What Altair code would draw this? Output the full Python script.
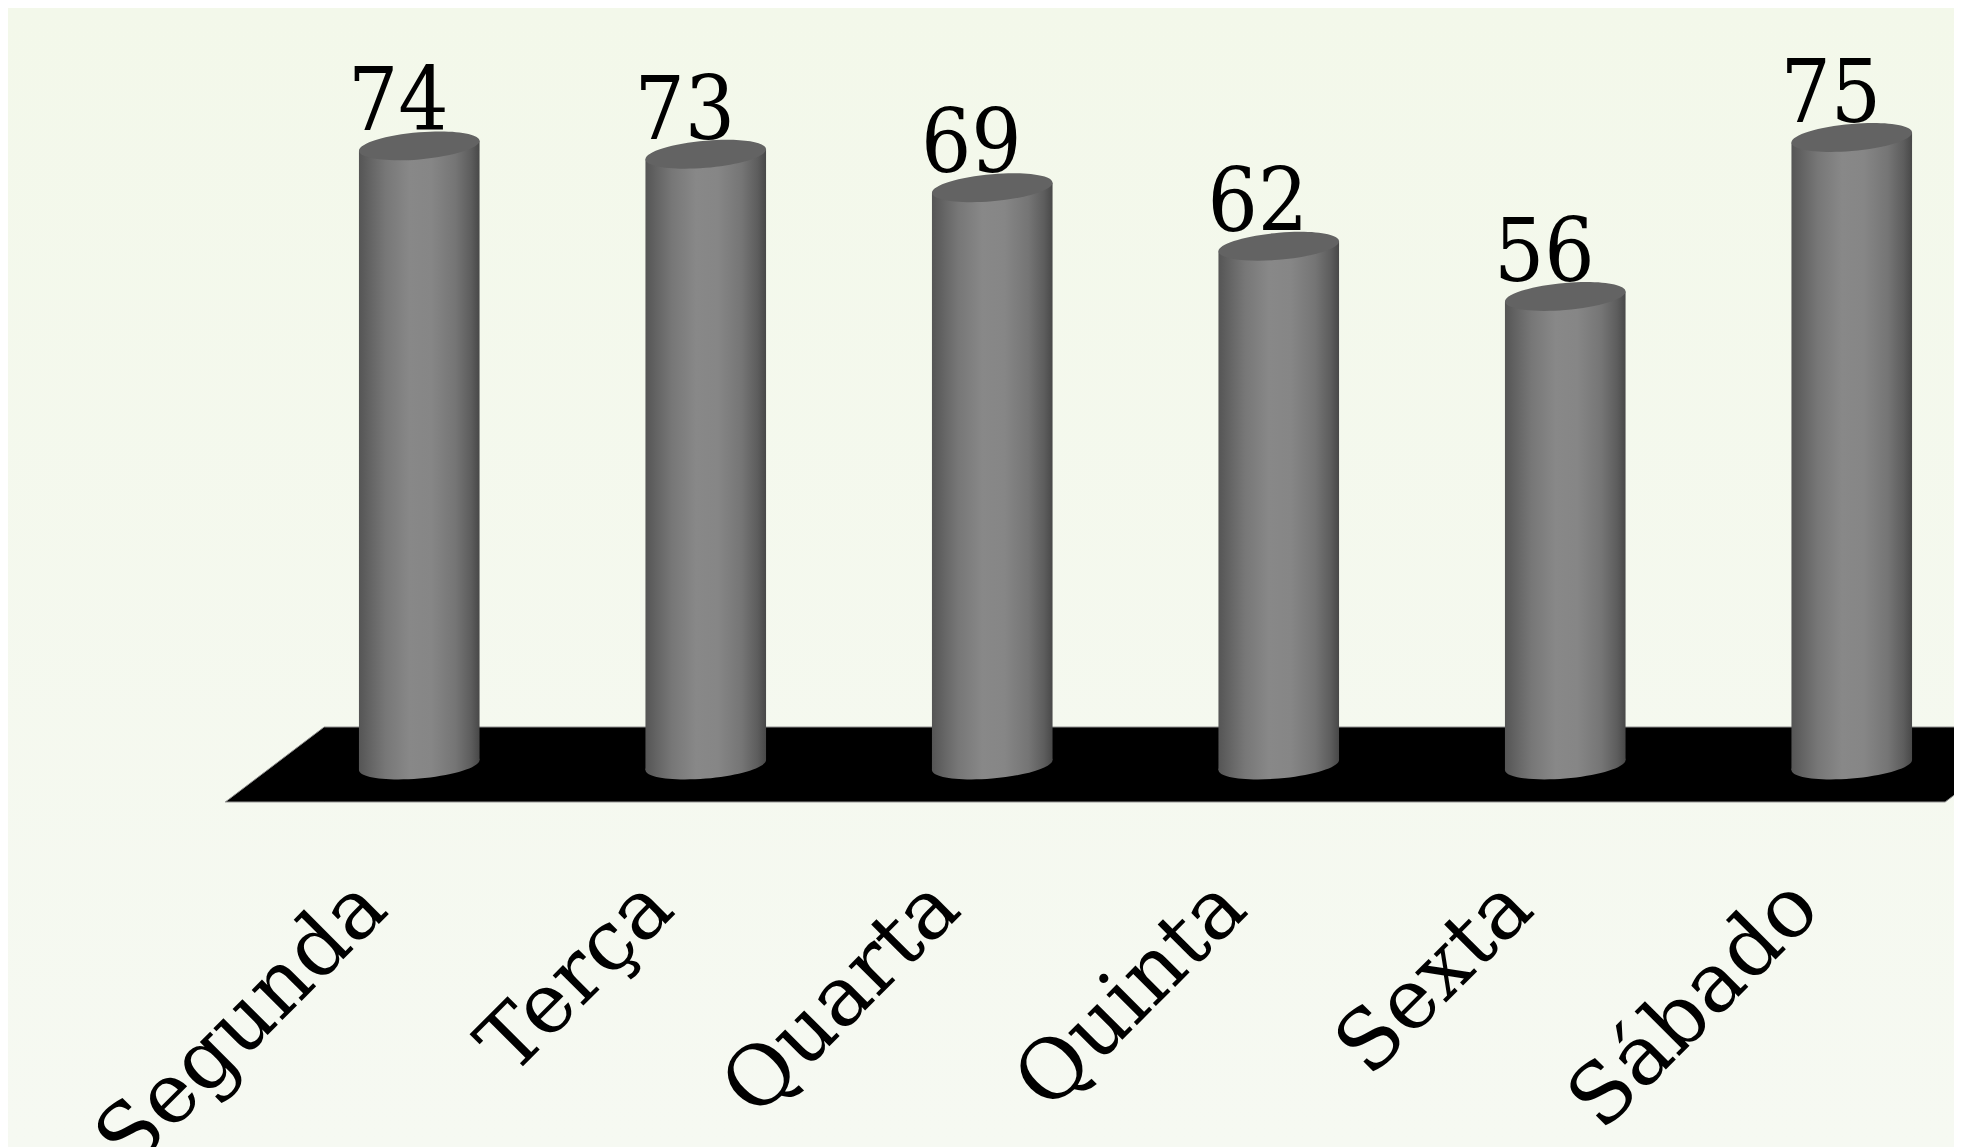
import altair as alt
import pandas as pd

days = ["Segunda", "Terça", "Quarta", "Quinta", "Sexta", "Sábado"]
values = [74, 73, 69, 62, 56, 75]
floor_x = [-0.677, -0.332, 5.326, 5.672]
floor_top = [-4.42, 4.54, 4.54, 4.54]
floor_bottom = [-4.42, -4.42, -4.42, 4.54]

half = 60.3 / 286.5
tilt = 0.6
FONT = "DejaVu Serif"
NUMFONT = "DejaVu Serif Condensed"

idx = list(range(len(days)))
base = pd.DataFrame({"x": idx, "day": days, "t": values, "z": [0] * len(days)})
body = pd.DataFrame(
    [
        {"i": i, "x": i + s * half, "t": v + s * tilt, "b": s * tilt}
        for i, v in zip(idx, values)
        for s in (-1, 1)
    ]
)
floor = pd.DataFrame({"x": floor_x, "t": floor_top, "b": floor_bottom})

grad = alt.Gradient(
    gradient="linear",
    x1=0, x2=1, y1=0, y2=0,
    stops=[
        alt.GradientStop(offset=0, color="#555555"),
        alt.GradientStop(offset=0.12, color="#686868"),
        alt.GradientStop(offset=0.22, color="#777777"),
        alt.GradientStop(offset=0.42, color="#888888"),
        alt.GradientStop(offset=0.6, color="#868686"),
        alt.GradientStop(offset=0.8, color="#757575"),
        alt.GradientStop(offset=0.93, color="#5d5d5d"),
        alt.GradientStop(offset=1, color="#484848"),
    ],
)
bg = alt.Gradient(
    gradient="linear",
    x1=0, x2=0, y1=0, y2=1,
    stops=[
        alt.GradientStop(offset=0, color="#f3f8ea"),
        alt.GradientStop(offset=1, color="#f6f9f2"),
    ],
)

ELLIPSE = "M -1 0.083 A 1.0035 0.2236 -5 1 1 1 -0.083 A 1.0035 0.2236 -5 1 1 -1 0.083 Z"
SIZE = 120.6 ** 2

label_expr = "[" + ",".join(f"'{d}'" for d in days) + "][datum.value]"
x_scale = alt.Scale(domain=[-0.5, 5.5], range=[0, 1719], nice=False, zero=False)
y_scale = alt.Scale(domain=[0, 90], nice=False)

x = alt.X(
    "x:Q",
    scale=x_scale,
    axis=alt.Axis(
        values=idx,
        labelExpr=label_expr,
        labelAngle=-45,
        labelAlign="right",
        labelBaseline="middle",
        labelFont=FONT,
        labelFontSize=83,
        labelColor="#000000",
        labelPadding=129,
        labelOffset=-47,
        labelLimit=2000,
        labelOverlap=False,
        labelBound=False,
        labelFlush=False,
        domain=False,
        ticks=False,
        grid=False,
        title=None,
        zindex=1,
    ),
)
y = alt.Y("t:Q", scale=y_scale, axis=None)

backdrop = (
    alt.Chart(pd.DataFrame({"a": [0]}))
    .mark_rect(color=bg)
    .encode(x=alt.value(-268), x2=alt.value(1678), y=alt.value(-4), y2=alt.value(1135))
)
floor_layer = (
    alt.Chart(floor)
    .mark_area(color="#000000", stroke="#8f8f8f", strokeWidth=1, orient="vertical")
    .encode(x=x, y=y, y2="b:Q")
)
bottoms = (
    alt.Chart(base)
    .mark_point(shape=ELLIPSE, size=SIZE, filled=True, fill=grad, opacity=1, strokeWidth=0)
    .encode(x=x, y=alt.Y("z:Q", scale=y_scale, axis=None))
)
bodies = (
    alt.Chart(body)
    .mark_area(color=grad, orient="vertical")
    .encode(x=x, y=y, y2="b:Q", detail="i:N")
)
tops = (
    alt.Chart(base)
    .mark_point(shape=ELLIPSE, size=SIZE, filled=True, fill="#636363", opacity=1, strokeWidth=0)
    .encode(x=x, y=y)
)
labels = (
    alt.Chart(base)
    .mark_text(font=NUMFONT, fontSize=88, color="#000000", baseline="alphabetic", dx=-21, dy=-15.5)
    .encode(x=x, y=y, text="t:Q")
)

chart = (
    alt.layer(backdrop, floor_layer, bottoms, bodies, tops, labels)
    .properties(
        width=1678,
        height=753,
        autosize=alt.AutoSizeParams(type="none"),
        padding={"left": 268, "top": 4, "right": 0, "bottom": 382},
    )
    .configure_view(stroke=None)
)

chart.save("out.html", embed_options={"renderer": "svg", "actions": False})
